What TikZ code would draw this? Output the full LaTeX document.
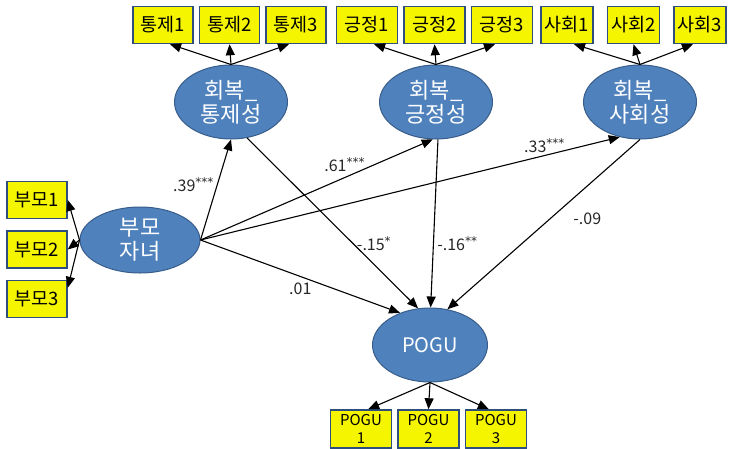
\documentclass[tikz,border=0pt]{standalone}
\usepackage{fontspec}
\setmainfont{Noto Sans CJK KR}
\newfontfamily\starfont{DejaVu Sans}
\usetikzlibrary{arrows.meta,positioning,shapes.geometric}
\definecolor{boxyellow}{HTML}{F5F500}
\definecolor{boxedge}{HTML}{2E4E7E}
\definecolor{latfill}{HTML}{4F81BD}
\definecolor{latedge}{HTML}{385D8A}
\newcommand{\sig}[1]{\raisebox{0.3em}{\starfont\fontsize{12}{12}\selectfont #1}}
\tikzset{
  ind/.style={draw=boxedge, fill=boxyellow, line width=1.5pt, minimum width=60pt,
    minimum height=37pt, inner sep=0pt, font=\fontsize{18.5}{20}\selectfont},
  lat/.style={ellipse, draw=latedge, fill=latfill, line width=1pt, text=white,
    minimum width=113pt, minimum height=74pt, inner sep=0pt, align=center,
    font=\fontsize{22}{24}\selectfont},
  path/.style={-{Triangle[length=11pt,width=9pt]}, line width=1.1pt},
  coef/.style={font=\fontsize{16}{18}\selectfont, text=black!85}
}
\begin{document}
\begin{tikzpicture}[x=1pt, y=-1pt]
  \useasboundingbox (0,0) rectangle (729,448);
  % latent variables
  \node[lat] (ctrl) at (231,102) {회복\_\\통제성};
  \node[lat] (posi) at (436,102) {회복\_\\긍정성};
  \node[lat] (soci) at (640,102) {회복\_\\사회성};
  \node[lat, minimum width=120pt, minimum height=66pt] (pc) at (140,240) {부모\\자녀};
  \node[lat, minimum width=115pt, font=\fontsize{20}{22}\selectfont] (pogu) at (430,345) {POGU};
  % indicators
  \node[ind] (c1) at (163,25) {통제1};
  \node[ind] (c2) [right=5pt of c1] {통제2};
  \node[ind] (c3) [right=5pt of c2] {통제3};
  \node[ind, minimum width=61pt] (g1) at (367,25) {긍정1};
  \node[ind, minimum width=61pt] (g2) [right=5pt of g1] {긍정2};
  \node[ind, minimum width=61pt] (g3) [right=5pt of g2] {긍정3};
  \node[ind, minimum width=52pt] (s1) at (567,25) {사회1};
  \node[ind, minimum width=52pt] (s2) [right=13pt of s1] {사회2};
  \node[ind, minimum width=52pt] (s3) [right=13pt of s2] {사회3};
  \node[ind] (b1) at (37,200) {부모1};
  \node[ind] (b2) [below=11pt of b1] {부모2};
  \node[ind] (b3) [below=11pt of b2] {부모3};
  \node[ind, minimum width=61pt, minimum height=38pt, align=center,
    font=\fontsize{15}{18}\selectfont] (p1) at (361,429) {POGU\\1};
  \node[ind, minimum width=61pt, minimum height=38pt, align=center,
    font=\fontsize{15}{18}\selectfont] (p2) [right=5pt of p1] {POGU\\2};
  \node[ind, minimum width=61pt, minimum height=38pt, align=center,
    font=\fontsize{15}{18}\selectfont] (p3) [right=5pt of p2] {POGU\\3};
  % measurement arrows
  \foreach \lv/\a/\b/\c in {ctrl/c1/c2/c3, posi/g1/g2/g3, soci/s1/s2/s3} {
    \draw[path] (\lv.north) -- (\a.-70);
    \draw[path] (\lv.north) -- (\b.south);
    \draw[path] (\lv.north) -- (\c.-110);
  }
  \draw[path] (pc.west) -- (b1.east);
  \draw[path] (pc.west) -- (b2.east);
  \draw[path] (pc.west) -- (b3.20);
  \draw[path] (pogu.south) -- (p1.70);
  \draw[path] (pogu.south) -- (p2.north);
  \draw[path] (pogu.south) -- (p3.110);
  % structural paths
  \draw[path] (pc.east) -- node[coef, pos=0.55, left] {.39\sig{***}} (ctrl.south);
  \draw[path] (pc.east) -- node[coef, pos=0.62, above=2pt] {.61\sig{***}} (posi.265);
  \draw[path] (pc.east) -- node[coef, pos=0.82, above=-1pt] {.33\sig{***}} (soci.240);
  \draw[path] (pc.east) -- node[coef, pos=0.5, below=3pt] {.01} (pogu.133);
  \draw[path] (ctrl.294) -- node[coef, pos=0.62, right] {-.15\sig{*}} (pogu.108);
  \draw[path] (posi.273) -- node[coef, pos=0.62, right] {-.16\sig{**}} (pogu.89);
  \draw[path] (soci.south) -- node[coef, pos=0.47, right=20pt] {-.09} (pogu.64);
\end{tikzpicture}
\end{document}
